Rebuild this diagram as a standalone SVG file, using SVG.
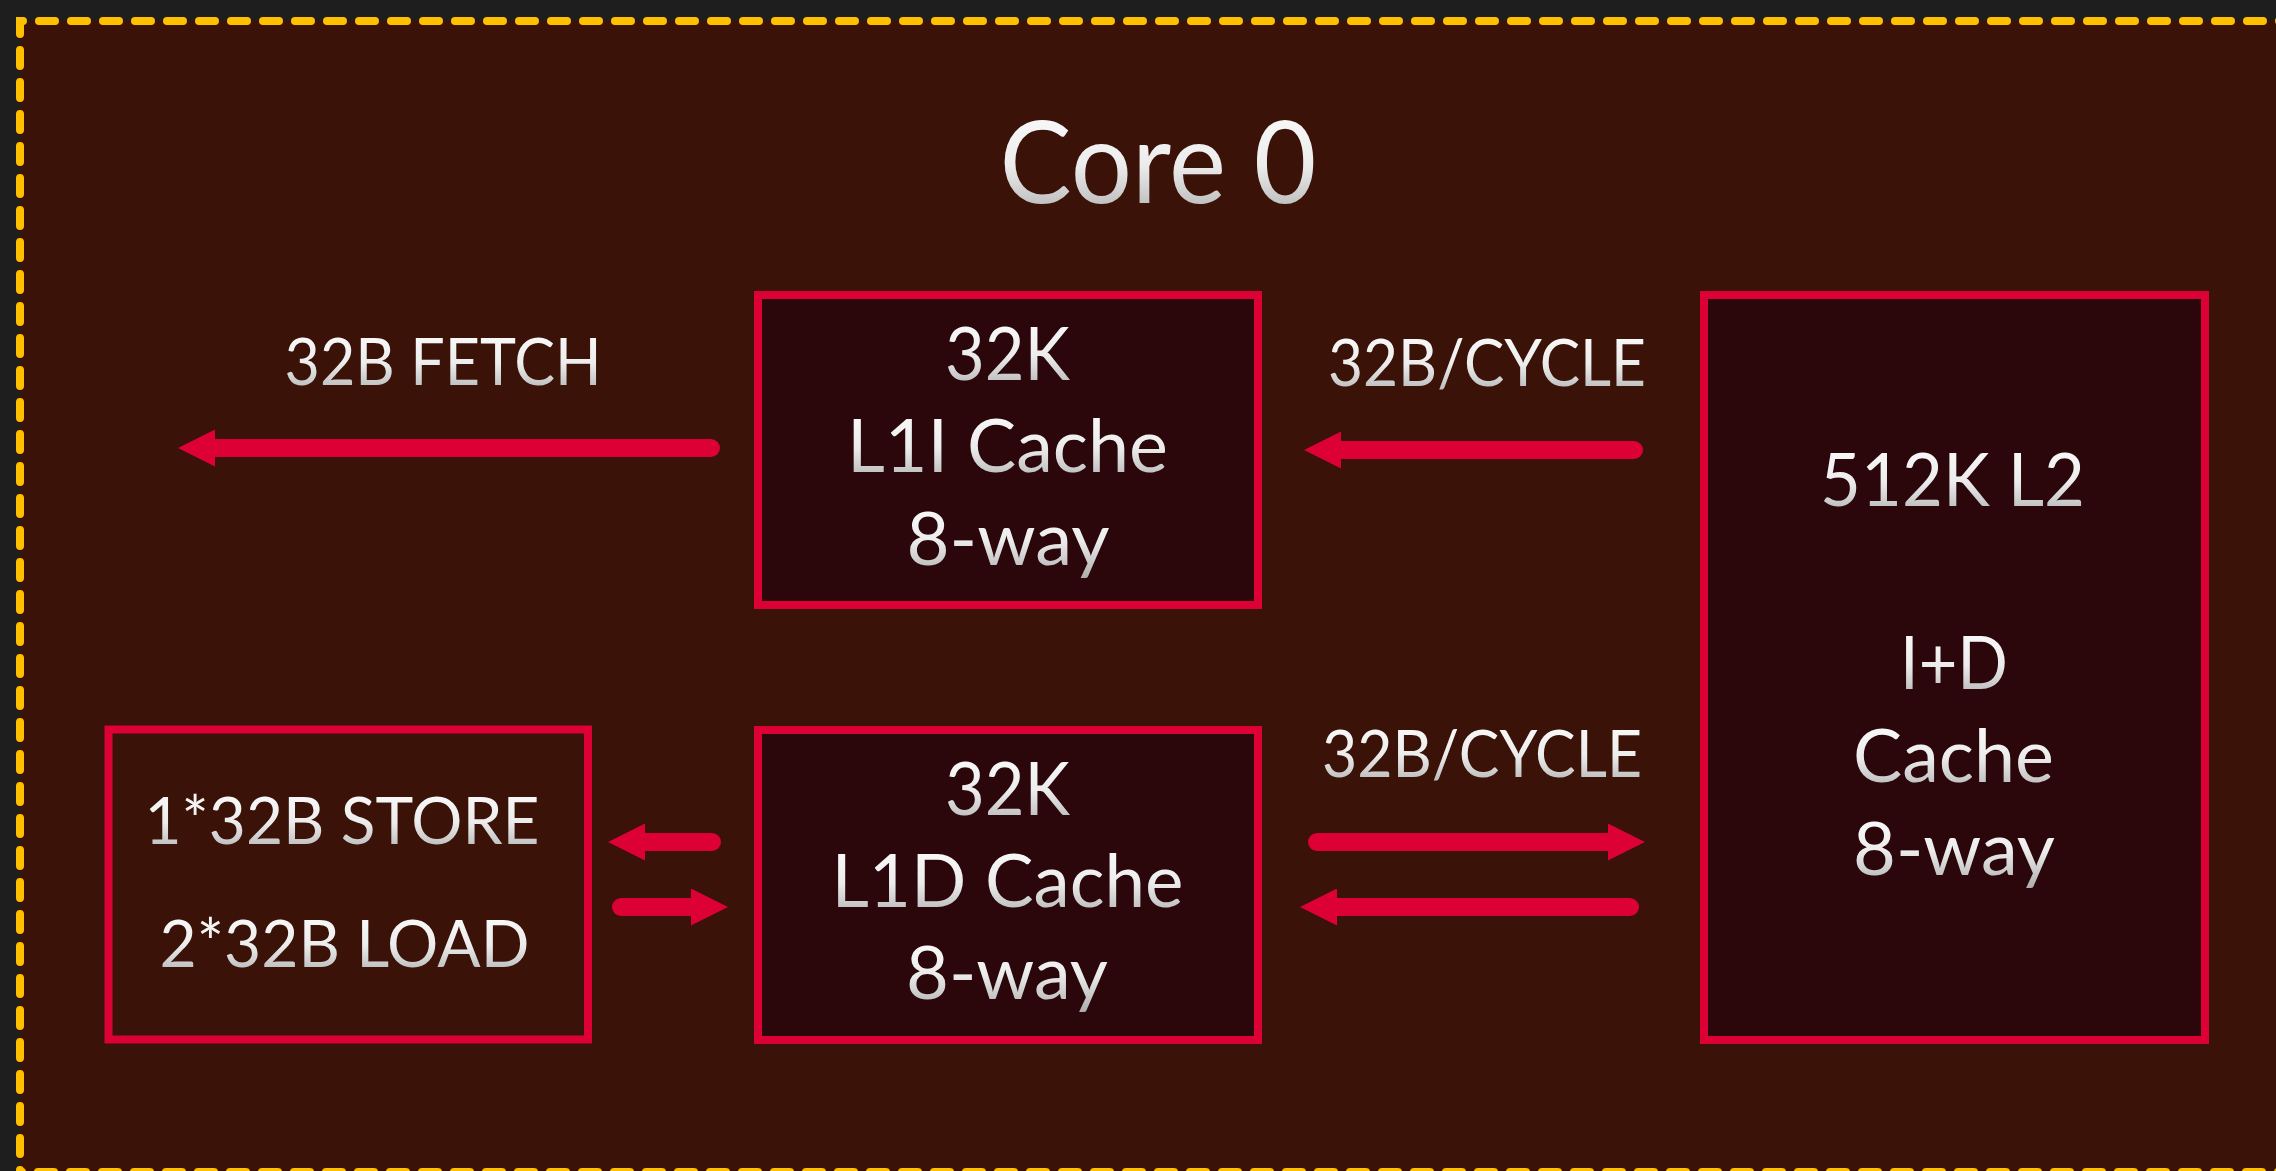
<svg xmlns="http://www.w3.org/2000/svg" width="2276" height="1171" viewBox="0 0 2276 1171">
  <defs>
    <linearGradient id="txt" x1="0" y1="0" x2="0" y2="1">
      <stop offset="0" stop-color="#ffffff"/>
      <stop offset="0.55" stop-color="#ececec"/>
      <stop offset="1" stop-color="#a8a8a8"/>
    </linearGradient>
    <marker id="head" markerUnits="userSpaceOnUse" viewBox="0 0 37 37" markerWidth="37" markerHeight="37" refX="0" refY="18.5" orient="auto">
      <path d="M0,0 L37,18.5 L0,37 Z" fill="#dc0035"/>
    </marker>
  </defs>
  <style>
    .t { font-family: Lato, "Liberation Sans", sans-serif; fill: url(#txt); text-anchor: middle; }
    .box { fill: #2b070c; stroke: #dc0035; stroke-width: 8; }
    .box2 { fill: #3a1208; stroke: #dc0035; stroke-width: 8; }
    .arr { stroke: #dc0035; stroke-width: 18; stroke-linecap: round; fill: none; marker-end: url(#head); }
    .dash { fill: none; stroke: #ffc000; stroke-width: 8; stroke-linecap: round; stroke-dasharray: 16 16; stroke-dashoffset: 14; }
    .lbl { font-size: 66px; }
    .bx { font-size: 74px; }
  </style>

  <rect x="0" y="0" width="2276" height="1171" fill="#1e1e1e"/>
  <g id="frame">
    <rect x="20" y="21" width="2290" height="1160" fill="#3a1208"/>
    <path class="dash" d="M20,1172 V21 H2300"/>
    <path class="dash" d="M20,1172 H2300"/>
    <text class="t" x="1158" y="203" font-size="114" textLength="317" lengthAdjust="spacingAndGlyphs">Core 0</text>
  </g>

  <g id="l1i">
    <rect class="box" x="758" y="295" width="500" height="310"/>
    <text class="t bx" x="1007.5" y="380" textLength="125" lengthAdjust="spacingAndGlyphs">32K</text>
    <text class="t bx" x="1007.5" y="472" textLength="321" lengthAdjust="spacingAndGlyphs">L1I Cache</text>
    <text class="t bx" x="1008" y="565" textLength="203" lengthAdjust="spacingAndGlyphs">8-way</text>
  </g>

  <g id="l1d">
    <rect class="box" x="758" y="730" width="500" height="310"/>
    <text class="t bx" x="1007.5" y="815" textLength="125" lengthAdjust="spacingAndGlyphs">32K</text>
    <text class="t bx" x="1007.5" y="907" textLength="352" lengthAdjust="spacingAndGlyphs">L1D Cache</text>
    <text class="t bx" x="1007" y="998.5" textLength="202" lengthAdjust="spacingAndGlyphs">8-way</text>
  </g>

  <g id="l2">
    <rect class="box" x="1704" y="295" width="501" height="745"/>
    <text class="t bx" x="1952.5" y="506" textLength="265" lengthAdjust="spacingAndGlyphs">512K L2</text>
    <text class="t bx" x="1954" y="689" textLength="108" lengthAdjust="spacingAndGlyphs">I+D</text>
    <text class="t bx" x="1953.5" y="782" textLength="201" lengthAdjust="spacingAndGlyphs">Cache</text>
    <text class="t bx" x="1954" y="875" textLength="202" lengthAdjust="spacingAndGlyphs">8-way</text>
  </g>

  <g id="lsu">
    <rect class="box2" x="108.5" y="729.5" width="479.5" height="310"/>
    <text class="t lbl" x="342" y="844" textLength="395" lengthAdjust="spacingAndGlyphs">1*32B STORE</text>
    <text class="t lbl" x="344.5" y="967" textLength="370" lengthAdjust="spacingAndGlyphs">2*32B LOAD</text>
  </g>

  <g id="connectors">
    <path class="arr" d="M711,448 H215"/>
    <text class="t lbl" x="443" y="385" textLength="317" lengthAdjust="spacingAndGlyphs">32B FETCH</text>
    <path class="arr" d="M1634,450 H1341"/>
    <text class="t lbl" x="1487" y="386" textLength="318" lengthAdjust="spacingAndGlyphs">32B/CYCLE</text>
    <path class="arr" d="M1317,842 H1608"/>
    <path class="arr" d="M1630,907 H1337"/>
    <text class="t lbl" x="1482" y="777" textLength="320" lengthAdjust="spacingAndGlyphs">32B/CYCLE</text>
    <path class="arr" d="M712,842 H645"/>
    <path class="arr" d="M621,907 H691"/>
  </g>
</svg>
